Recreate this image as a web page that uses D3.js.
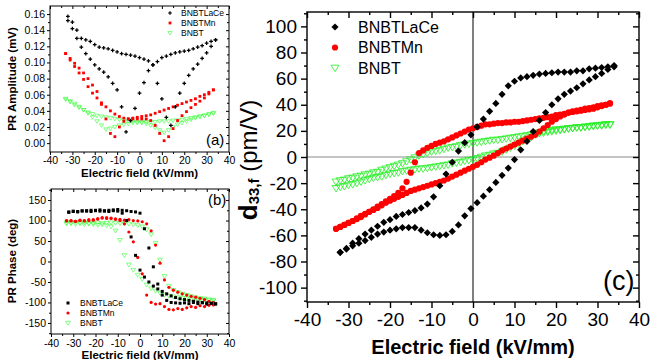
<!DOCTYPE html>
<html>
<head>
<meta charset="utf-8">
<script src="https://cdn.jsdelivr.net/npm/d3@7"></script>
<style>
    body { margin: 0; background: #fff; }
    svg { display: block; font-family: Arial, "Liberation Sans", sans-serif; }
</style>
</head>
<body>
<svg id="chart" width="652" height="360"></svg>
<script>
// field sweeps (kV/mm) used by the PR panels (a) and (b)
const fieldLaCe = [-32, -30, -28, -26, -24, -22, -20, -18, -16, -14, -12, -10, -8, -6, -4, -2, 0, 2, 4, 6, 8, 10, 12, 14, 16, 18, 20, 22, 24, 26, 28, 30, 32, 34];
const fieldMn = [-33, -31, -29, -27, -25, -23, -21, -19, -17, -15, -13, -11, -9, -7, -5, -3, -1, 1, 3, 5, 7, 9, 11, 13, 15, 17, 19, 21, 23, 25, 27, 29, 31, 33];
const fieldBNBT = [-33, -31, -29, -27, -25, -23, -21, -19, -17, -15, -13, -11, -9, -7, -5, -3, -1, 1, 3, 5, 7, 9, 11, 13, 15, 17, 19, 21, 23, 25, 27, 29, 31, 33];

// field sweeps used by the d33 panel (c)
const fieldLaCeD33 = [-32, -30.5, -29, -27.5, -26, -24.5, -23, -21.5, -20, -18.5, -17, -15.5, -14, -12.5, -11, -9.5, -8, -6.5, -5, -3.5, -2, -0.5, 1, 2.5, 4, 5.5, 7, 8.5, 10, 11.5, 13, 14.5, 16, 17.5, 19, 20.5, 22, 23.5, 25, 26.5, 28, 29.5, 31, 32.5, 34];
const fieldMnD33 = [-33, -32, -31, -30, -29, -28, -27, -26, -25, -24, -23, -22, -21, -20, -19, -18, -17, -16, -15, -14, -13, -12, -11, -10, -9, -8, -7, -6, -5, -4, -3, -2, -1, 0, 1, 2, 3, 4, 5, 6, 7, 8, 9, 10, 11, 12, 13, 14, 15, 16, 17, 18, 19, 20, 21, 22, 23, 24, 25, 26, 27, 28, 29, 30, 31, 32, 33];
const fieldBNBTD33 = [-33, -32, -31, -30, -29, -28, -27, -26, -25, -24, -23, -22, -21, -20, -19, -18, -17, -16, -15, -14, -13, -12, -11, -10, -9, -8, -7, -6, -5, -4, -3, -2, -1, 0, 1, 2, 3, 4, 5, 6, 7, 8, 9, 10, 11, 12, 13, 14, 15, 16, 17, 18, 19, 20, 21, 22, 23, 24, 25, 26, 27, 28, 29, 30, 31, 32, 33];

// (a) PR amplitude (mV)
const ampLaCeFwd = [0.157, 0.150, 0.140, 0.130, 0.128, 0.126, 0.122, 0.119, 0.118, 0.117, 0.115, 0.113, 0.111, 0.110, 0.109, 0.108, 0.106, 0.104, 0.102, 0.097, 0.074, 0.055, 0.032, 0.022, 0.045, 0.062, 0.074, 0.084, 0.092, 0.098, 0.105, 0.112, 0.120, 0.128];
const ampLaCeRev = [0.152, 0.142, 0.130, 0.119, 0.111, 0.104, 0.097, 0.092, 0.088, 0.082, 0.074, 0.066, 0.045, 0.014, 0.028, 0.043, 0.062, 0.075, 0.090, 0.097, 0.101, 0.106, 0.108, 0.110, 0.112, 0.113, 0.114, 0.115, 0.117, 0.119, 0.121, 0.124, 0.126, 0.128];
const ampMnFwd = [0.111, 0.103, 0.095, 0.087, 0.079, 0.070, 0.062, 0.056, 0.050, 0.045, 0.040, 0.036, 0.033, 0.031, 0.030, 0.030, 0.030, 0.030, 0.030, 0.028, 0.022, 0.012, 0.003, 0.008, 0.018, 0.028, 0.034, 0.039, 0.044, 0.048, 0.052, 0.056, 0.061, 0.066];
const ampMnRev = [0.111, 0.105, 0.099, 0.093, 0.087, 0.080, 0.072, 0.064, 0.048, 0.030, 0.012, 0.008, 0.020, 0.027, 0.030, 0.031, 0.032, 0.033, 0.034, 0.035, 0.037, 0.039, 0.041, 0.043, 0.045, 0.047, 0.049, 0.051, 0.053, 0.055, 0.058, 0.060, 0.063, 0.066];
const ampBNBTFwd = [0.055, 0.051, 0.047, 0.044, 0.041, 0.038, 0.036, 0.034, 0.033, 0.032, 0.031, 0.030, 0.029, 0.028, 0.027, 0.027, 0.026, 0.025, 0.024, 0.022, 0.019, 0.016, 0.013, 0.016, 0.020, 0.023, 0.025, 0.027, 0.029, 0.031, 0.033, 0.034, 0.036, 0.037];
const ampBNBTRev = [0.054, 0.052, 0.049, 0.045, 0.041, 0.037, 0.032, 0.027, 0.022, 0.017, 0.018, 0.020, 0.022, 0.023, 0.024, 0.025, 0.025, 0.026, 0.026, 0.026, 0.026, 0.027, 0.027, 0.027, 0.028, 0.028, 0.029, 0.030, 0.031, 0.032, 0.033, 0.034, 0.035, 0.037];

// (b) PR phase (deg)
const phaseLaCeFwd = [121, 123, 122, 124, 123, 125, 124, 126, 123, 125, 126, 127, 125, 124, 122, 121, 118, 80, 33, -13, -55, -82, -95, -100, -101, -102, -101, -103, -100, -103, -101, -104, -102, -104];
const phaseLaCeRev = [120, 122, 121, 123, 124, 122, 125, 123, 124, 122, 124, 123, 118, 100, 60, 15, -21, -38, -50, -60, -67, -73, -79, -84, -88, -91, -93, -95, -97, -99, -100, -101, -102, -103];
const phaseMnFwd = [99, 100, 98, 101, 100, 102, 101, 104, 106, 107, 105, 103, 100, 92, 72, 48, 10, -30, -82, -100, -104, -103, -110, -117, -118, -115, -117, -113, -110, -112, -108, -110, -107, -106];
const phaseMnRev = [100, 99, 98, 100, 99, 100, 102, 104, 107, 105, 106, 104, 103, 101, 102, 100, 99, 97, 92, 75, 40, -4, -45, -63, -70, -75, -79, -82, -85, -87, -90, -93, -97, -100];
const phaseBNBTFwd = [92, 94, 91, 93, 90, 92, 91, 89, 90, 88, 85, 75, 52, 15, -8, -21, -33, -43, -57, -66, -72, -77, -81, -84, -86, -88, -89, -90, -91, -92, -93, -94, -95, -96];
const phaseBNBTRev = [95, 93, 96, 94, 95, 93, 94, 95, 93, 94, 95, 94, 93, 92, 92, 90, 88, 85, 78, 66, 45, 4, -36, -60, -70, -75, -79, -82, -85, -88, -90, -91, -93, -94];

// (c) d33,f (pm/V)
const d33LaCeFwd = [-73, -70.5, -68, -66, -64, -61.5, -59, -57.5, -56, -55, -54, -54, -54, -56, -58, -59.5, -60, -59.5, -57, -52, -45, -39.5, -35, -30, -25, -19.5, -14, -8.5, -2, 5.5, 12, 19.5, 28, 34, 40, 44.5, 48, 50.5, 53, 56, 59, 61.5, 64, 67, 69];
const d33LaCeRev = [-73, -70, -66, -62.5, -59, -56, -53, -50, -48, -45.5, -44, -42.5, -41, -39, -36, -30.5, -22, -13, -4, 4.5, 11, 17, 23, 29, 35, 41, 48, 54.5, 58, 60.5, 61.5, 62.5, 63.5, 64, 64.5, 65, 65, 65, 66, 66, 67.5, 68, 68.5, 69, 70];
const d33MnFwd = [-55, -53.5, -52, -50.5, -49, -47, -45, -43.5, -42, -40.5, -39, -37, -35, -33.5, -32, -30.5, -29, -27.5, -26, -25, -24, -23, -22, -21, -20, -19, -18, -16.5, -15, -13.5, -12, -10.5, -9, -7.5, -6, -4, -2, -0.5, 1, 3, 5, 6.5, 8, 9.5, 11, 12.5, 14, 15.5, 17, 19.5, 22, 24.5, 27, 29, 31, 32.5, 34, 35, 35.5, 36, 37, 37.5, 38, 39, 39.5, 40, 41];
const d33MnRev = [-55, -53.5, -52, -50.5, -49, -47.5, -46, -44, -42, -40, -38, -36, -34, -32, -30, -27.5, -24, -19, -12, -4, 3, 5, 7, 8.5, 10, 11, 12, 13.5, 15, 16.5, 18, 19.5, 21, 22, 23, 24, 25, 25, 25.5, 26, 26, 26.5, 26.5, 27, 27, 27.5, 28, 28.5, 29, 29.5, 30, 30.5, 31, 32, 32.5, 33, 34, 34.5, 35, 35.5, 36, 36.5, 37, 38, 39, 40, 41];
const d33BNBTFwd = [-24, -23, -22.5, -21.5, -21, -20, -19, -18, -17, -16, -15.5, -15, -14, -13, -12.5, -12, -11, -10.5, -10, -9.5, -9, -9, -8.5, -8, -7.5, -7, -6.5, -6, -5, -4.5, -4, -3, -2.5, -2, -1, 0, 1, 1.5, 2.5, 3, 4, 5.5, 7, 8.5, 10, 12, 13.5, 15, 17, 18.5, 19.5, 20, 20.5, 21, 21, 21.5, 22, 22, 22.5, 22.5, 23, 23, 23.5, 24, 24, 24.5, 24.5];
const d33BNBTRev = [-19, -18, -17.5, -16.5, -16, -15, -14.5, -13.5, -13, -12, -11.5, -10, -9, -8, -7, -6, -5, -3.5, -2, -0.5, 1, 2, 3, 4, 4.5, 5, 6, 7, 7.5, 8, 9, 9.5, 10, 10.5, 11, 11.5, 12, 12.5, 13, 13, 13.5, 14, 14.5, 15, 15.5, 16, 16.5, 17, 17.5, 18, 18.5, 19, 19.5, 20, 20.5, 21, 21.5, 22, 22.5, 22.5, 23, 23.5, 24, 24, 24.5, 25, 25];

const sampleNames = ["BNBTLaCe", "BNBTMn", "BNBT"];
const fieldTicks = [-40, -30, -20, -10, 0, 10, 20, 30, 40];
const fieldMinor = [-35, -25, -15, -5, 5, 15, 25, 35];
const ampTicks = [0, 0.02, 0.04, 0.06, 0.08, 0.10, 0.12, 0.14, 0.16];
const ampMinor = [0.01, 0.03, 0.05, 0.07, 0.09, 0.11, 0.13, 0.15];
const phaseTicks = [-150, -100, -50, 0, 50, 100, 150];
const phaseMinor = [-175, -125, -75, -25, 25, 75, 125, 175];
const d33Ticks = [-100, -80, -60, -40, -20, 0, 20, 40, 60, 80, 100];
const d33Minor = [-110, -90, -70, -50, -30, -10, 10, 30, 50, 70, 90, 110];

const svg = d3.select("#chart");

// marker shapes, r is half size
const shapes = {
    diamond: r => `M0,${-r}L${r},0L0,${r}L${-r},0Z`,
    square: r => `M${-r},${-r}h${2 * r}v${2 * r}h${-2 * r}Z`,
    circle: r => d3.symbol(d3.symbolCircle, Math.PI * r * r)(),
    cross: r => d3.symbol(d3.symbolCross, (2 * r) * (2 * r) * 0.6)(),
    triDown: r => `M${-r},${-r * 0.7}L${r},${-r * 0.7}L0,${r * 0.9}Z`
};

const drawMarker = (sel, st) => sel
    .attr("d", shapes[st.shape](st.r))
    .attr("fill", st.open ? "none" : st.color)
    .attr("stroke", st.open ? st.color : "none")
    .attr("stroke-width", st.open ? st.sw : 0);

function drawPanel(p) {
    const x = d3.scaleLinear().domain([-40, 40]).range([p.left, p.right]);
    const y = d3.scaleLinear().domain(p.yDomain).range([p.bottom, p.top]);
    const g = svg.append("g");

    if (p.zeroLines) {
        g.append("line")
            .attr("x1", p.left).attr("x2", p.right)
            .attr("y1", y(0)).attr("y2", y(0))
            .attr("stroke", "#8a8a8a").attr("stroke-width", 1.2);
        g.append("line")
            .attr("x1", x(0)).attr("x2", x(0))
            .attr("y1", p.top).attr("y2", p.bottom)
            .attr("stroke", "#000").attr("stroke-width", 1);
    }

    // draw green first so black sits on top
    [2, 1, 0].forEach(k => {
        const s = p.series[k];
        const st = p.styles[k];
        const pts = [];
        s.branches.forEach(b => b.forEach((v, i) => pts.push([s.field[i], v])));
        g.append("g").selectAll("path")
            .data(pts)
            .join("path")
            .attr("transform", d => `translate(${x(d[0])},${y(d[1])})`)
            .call(drawMarker, st);
    });

    const axes = [
        { gen: d3.axisBottom(x).tickValues(fieldTicks).tickFormat(d => String(d)), at: `translate(0,${p.bottom})`, len: p.tick, pad: p.xPad },
        { gen: d3.axisBottom(x).tickValues(fieldMinor).tickFormat(""), at: `translate(0,${p.bottom})`, len: p.minor },
        { gen: d3.axisTop(x).tickValues(fieldTicks).tickFormat(""), at: `translate(0,${p.top})`, len: -p.tick },
        { gen: d3.axisTop(x).tickValues(fieldMinor).tickFormat(""), at: `translate(0,${p.top})`, len: -p.minor },
        { gen: d3.axisLeft(y).tickValues(p.yTicks).tickFormat(p.yFormat), at: `translate(${p.left},0)`, len: p.tick, pad: p.yPad },
        { gen: d3.axisLeft(y).tickValues(p.yMinor).tickFormat(""), at: `translate(${p.left},0)`, len: p.minor },
        { gen: d3.axisRight(y).tickValues(p.yTicks).tickFormat(""), at: `translate(${p.right},0)`, len: -p.tick },
        { gen: d3.axisRight(y).tickValues(p.yMinor).tickFormat(""), at: `translate(${p.right},0)`, len: -p.minor }
    ];
    axes.forEach(a => {
        const ax = g.append("g")
            .attr("transform", a.at)
            .call(a.gen.tickSize(a.len).tickPadding(a.pad || 2));
        ax.select(".domain").remove();
        ax.selectAll("line").attr("stroke", "#000").attr("stroke-width", p.frameWidth);
        ax.selectAll("text")
            .attr("font-size", p.tickFont)
            .attr("font-family", "Arial, 'Liberation Sans', sans-serif")
            .attr("fill", "#000");
    });

    g.append("rect")
        .attr("x", p.left).attr("y", p.top)
        .attr("width", p.right - p.left).attr("height", p.bottom - p.top)
        .attr("fill", "none")
        .attr("stroke", "#000")
        .attr("stroke-width", p.frameWidth);

    g.append("text")
        .attr("x", (p.left + p.right) / 2)
        .attr("y", p.xTitleY)
        .attr("text-anchor", "middle")
        .attr("font-weight", "bold")
        .attr("font-size", p.titleFont)
        .text("Electric field (kV/mm)");

    // legend
    sampleNames.forEach((name, k) => {
        const ly = p.legend.y + k * p.legend.dy;
        g.append("path")
            .attr("transform", `translate(${p.legend.x},${ly})`)
            .call(drawMarker, p.styles[k]);
        g.append("text")
            .attr("x", p.legend.x + p.legend.gap)
            .attr("y", ly)
            .attr("dy", "0.35em")
            .attr("font-size", p.legend.font)
            .text(name);
    });

    g.append("text")
        .attr("x", p.tag.x)
        .attr("y", p.tag.y)
        .attr("font-size", p.tag.font)
        .text(p.tag.text);

    return g;
}

const series = (fields, a, b, c) => [
    { field: fields[0], branches: a },
    { field: fields[1], branches: b },
    { field: fields[2], branches: c }
];

// (a)
const pa = drawPanel({
    left: 50, right: 229, top: 6, bottom: 152,
    yDomain: [-0.011, 0.170], yTicks: ampTicks, yMinor: ampMinor, yFormat: d => d.toFixed(2),
    tick: 3, minor: 2, xPad: 2, yPad: 2, tickFont: 10.5, titleFont: 11.5, frameWidth: 1,
    xTitleY: 177,
    series: series([fieldLaCe, fieldMn, fieldBNBT], [ampLaCeFwd, ampLaCeRev], [ampMnFwd, ampMnRev], [ampBNBTFwd, ampBNBTRev]),
    styles: [
        { shape: "cross", r: 1.8, color: "#000" },
        { shape: "square", r: 1.4, color: "#ff0000" },
        { shape: "triDown", r: 2.2, color: "#33ff33", open: true, sw: 0.6 }
    ],
    legend: { x: 170, y: 13, dy: 10, gap: 11, font: 8.5 },
    tag: { x: 206, y: 145, font: 15, text: "(a)" }
});
pa.append("text")
    .attr("transform", "translate(16,79) rotate(-90)")
    .attr("text-anchor", "middle")
    .attr("font-weight", "bold")
    .attr("font-size", 11.5)
    .text("PR Amplitude (mV)");

// (b)
const pb = drawPanel({
    left: 51, right: 229, top: 189, bottom: 334,
    yDomain: [-177, 177], yTicks: phaseTicks, yMinor: phaseMinor, yFormat: d => String(d),
    tick: 3, minor: 2, xPad: 3, yPad: 2, tickFont: 10.5, titleFont: 11.5, frameWidth: 1,
    xTitleY: 359,
    series: series([fieldLaCe, fieldMn, fieldBNBT], [phaseLaCeFwd, phaseLaCeRev], [phaseMnFwd, phaseMnRev], [phaseBNBTFwd, phaseBNBTRev]),
    styles: [
        { shape: "square", r: 1.5, color: "#000" },
        { shape: "circle", r: 1.6, color: "#ff0000" },
        { shape: "triDown", r: 2.4, color: "#33ff33", open: true, sw: 0.6 }
    ],
    legend: { x: 68, y: 303, dy: 10, gap: 12, font: 8.5 },
    tag: { x: 208, y: 205, font: 15, text: "(b)" }
});
pb.append("text")
    .attr("transform", "translate(16,261) rotate(-90)")
    .attr("text-anchor", "middle")
    .attr("font-weight", "bold")
    .attr("font-size", 11.5)
    .text("PR Phase (deg)");

// (c)
const pc = drawPanel({
    left: 307, right: 639, top: 12, bottom: 302,
    yDomain: [-111, 111], yTicks: d33Ticks, yMinor: d33Minor, yFormat: d => String(d),
    tick: 6, minor: 3, xPad: 5, yPad: 4, tickFont: 19, titleFont: 20, frameWidth: 1.4,
    xTitleY: 354, zeroLines: true,
    series: series([fieldLaCeD33, fieldMnD33, fieldBNBTD33], [d33LaCeFwd, d33LaCeRev], [d33MnFwd, d33MnRev], [d33BNBTFwd, d33BNBTRev]),
    styles: [
        { shape: "diamond", r: 3.6, color: "#000" },
        { shape: "circle", r: 3.1, color: "#ff0000" },
        { shape: "triDown", r: 4, color: "#22ee22", open: true, sw: 0.8 }
    ],
    legend: { x: 335, y: 27, dy: 20.5, gap: 23, font: 16 },
    tag: { x: 603, y: 290, font: 27, text: "(c)" }
});
const yTitle = pc.append("text")
    .attr("transform", "translate(257,160) rotate(-90)")
    .attr("text-anchor", "middle");
yTitle.append("tspan").attr("font-weight", "bold").attr("font-size", 26).text("d");
yTitle.append("tspan").attr("font-weight", "bold").attr("font-size", 15).attr("dy", 2).text("33,f");
yTitle.append("tspan").attr("font-size", 24).attr("dy", -2).text("\u00a0(pm/V)");
</script>
</body>
</html>
